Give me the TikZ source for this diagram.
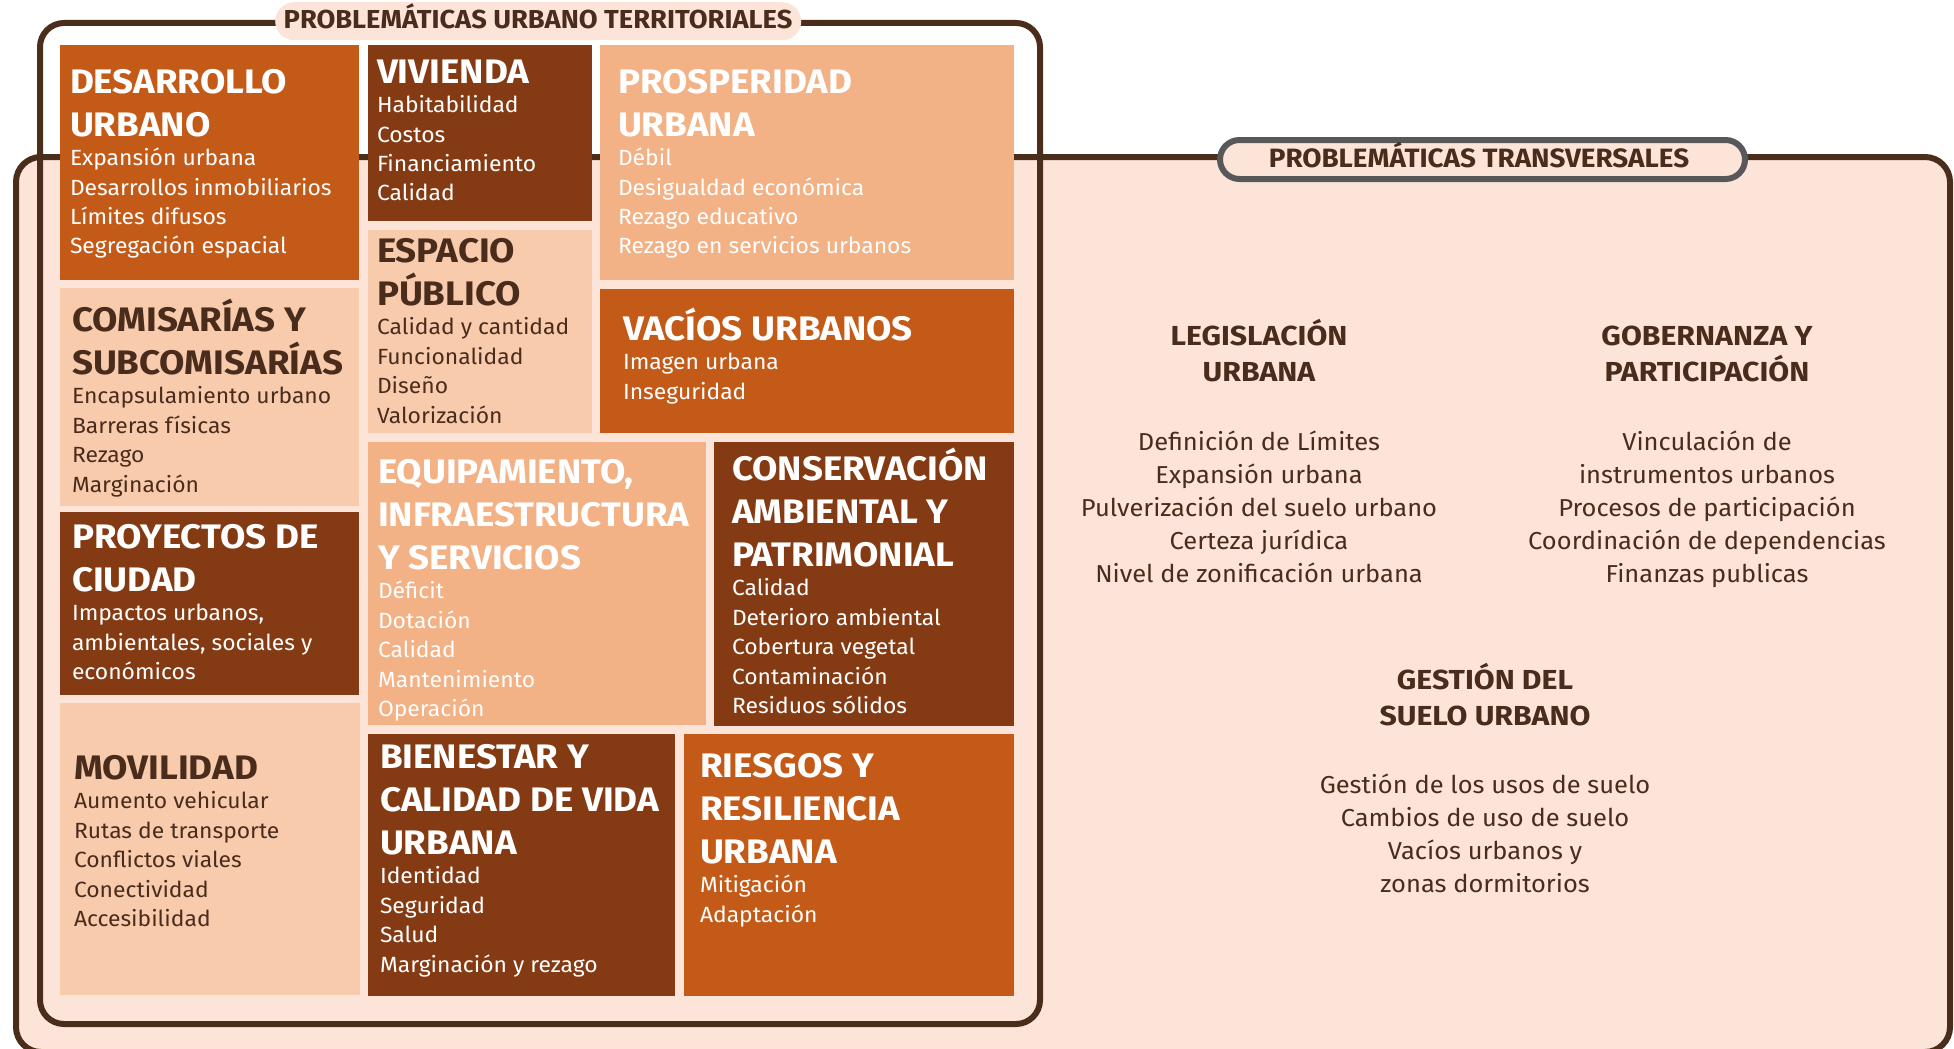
\documentclass[tikz,border=0pt]{standalone}
\usepackage{fontspec}
\setmainfont{Fira Sans}
\newfontfamily\ttlf{Fira Sans}[FakeStretch=1.08]
\newfontfamily\bodyf{Fira Sans}[FakeStretch=1.04]
\newfontfamily\rttlf{Fira Sans}[FakeStretch=1.10]
\newfontfamily\pillf{Fira Sans}[FakeStretch=1.05]
\definecolor{cOr}{HTML}{C35A18}
\definecolor{cDk}{HTML}{843B13}
\definecolor{cLo}{HTML}{F3B186}
\definecolor{cLp}{HTML}{F8CBAD}
\definecolor{cBg}{HTML}{FCE5D8}
\definecolor{cLine}{HTML}{4B2D1B}
\definecolor{cTxt}{HTML}{4A2C1C}
\definecolor{cGray}{HTML}{58585A}
\newcommand\lin[1]{\hbox{#1}}
\newcommand\clin[1]{\hbox to \hsize{\hss#1\hss}}
\newcommand\TT{\ttlf\fontsize{34}{43}\selectfont\bfseries}
\newcommand\BB{\bodyf\fontsize{22}{29.5}\selectfont\mdseries}
\newcommand\RT{\rttlf\fontsize{27.5}{36.5}\selectfont\bfseries}
\newcommand\RB{\bodyf\fontsize{24.5}{33}\selectfont\mdseries}
\newcommand\card[1]{\vtop{\lineskiplimit=-200pt\relax #1}}
\newcommand\ccard[1]{\vtop{\hsize=600pt\lineskiplimit=-200pt\relax #1}}
\tikzset{
  cardbox/.style={inner sep=0pt, outer sep=0pt, anchor=north west, draw=none},
  txt/.style={inner sep=0pt, outer sep=0pt, anchor=base west},
  ctxt/.style={inner sep=0pt, outer sep=0pt, anchor=base},
  frameline/.style={draw=cLine, line width=6pt},
}
\begin{document}
\begin{tikzpicture}[x=1pt,y=-1pt]
\useasboundingbox (0,0) rectangle (1954,1049);
% frames
\path[frameline, fill=cBg, rounded corners=25pt] (16,157) rectangle (1950,1052);
\path[frameline, rounded corners=24pt] (40,23) rectangle (1040,1024);
% pills
\node[fill=cBg, rounded corners=19pt, minimum width=526, minimum height=38, inner sep=0pt, anchor=north west] (pill1) at (275,2) {};
\node[fill=cBg, draw=cGray, line width=6pt, rounded corners=19.5pt, minimum width=525, minimum height=39, inner sep=0pt, anchor=north west] (pill2) at (1217,137) {};
\node[ctxt, text=cTxt, font=\pillf\fontsize{26}{30}\selectfont\bfseries] (pt1) at (538,29) {PROBLEMÁTICAS URBANO TERRITORIALES};
\node[ctxt, text=cTxt, font=\pillf\fontsize{26.5}{30}\selectfont\bfseries] (pt2) at (1479,167) {PROBLEMÁTICAS TRANSVERSALES};
% boxes
\node[cardbox, fill=cOr, minimum width=299, minimum height=235] (b1) at (60,45) {};
\node[cardbox, fill=cDk, minimum width=224, minimum height=176] (b2) at (368,45) {};
\node[cardbox, fill=cLo, minimum width=414, minimum height=235] (b3) at (600,45) {};
\node[cardbox, fill=cLp, minimum width=299, minimum height=218] (b4) at (60,288) {};
\node[cardbox, fill=cLp, minimum width=224, minimum height=203] (b5) at (368,230) {};
\node[cardbox, fill=cOr, minimum width=414, minimum height=144] (b6) at (600,289) {};
\node[cardbox, fill=cDk, minimum width=299, minimum height=183] (b7) at (60,512) {};
\node[cardbox, fill=cLo, minimum width=338, minimum height=283] (b8) at (368,442) {};
\node[cardbox, fill=cDk, minimum width=300, minimum height=284] (b9) at (714,442) {};
\node[cardbox, fill=cLp, minimum width=300, minimum height=292] (b10) at (60,703) {};
\node[cardbox, fill=cDk, minimum width=307, minimum height=262] (b11) at (368,734) {};
\node[cardbox, fill=cOr, minimum width=330, minimum height=262] (b12) at (684,734) {};
% box texts
\node[txt, text=white] (t1) at (70,93) {\card{\TT\lin{DESARROLLO}\lin{URBANO}\BB\lin{Expansión urbana}\lin{Desarrollos inmobiliarios}\lin{Límites difusos}\lin{Segregación espacial}}};
\node[txt, text=white] (t2) at (377,83) {\card{\TT\lin{VIVIENDA}\BB\lin{Habitabilidad}\lin{Costos}\lin{Financiamiento}\lin{Calidad}}};
\node[txt, text=white] (t3) at (618,93) {\card{\TT\lin{PROSPERIDAD}\lin{URBANA}\BB\lin{Débil}\lin{Desigualdad económica}\lin{Rezago educativo}\lin{Rezago en servicios urbanos}}};
\node[txt, text=cTxt] (t4) at (72,331) {\card{\TT\lin{COMISARÍAS Y}\lin{SUBCOMISARÍAS}\BB\lin{Encapsulamiento urbano}\lin{Barreras físicas}\lin{Rezago}\lin{Marginación}}};
\node[txt, text=cTxt] (t5) at (377,262) {\card{\TT\lin{ESPACIO}\lin{PÚBLICO}\BB\lin{Calidad y cantidad}\lin{Funcionalidad}\lin{Diseño}\lin{Valorización}}};
\node[txt, text=white] (t6) at (623,340) {\card{\TT\lin{VACÍOS URBANOS}\BB\lin{Imagen urbana}\lin{Inseguridad}}};
\node[txt, text=white] (t7) at (72,548) {\card{\TT\lin{PROYECTOS DE}\lin{CIUDAD}\BB\lin{Impactos urbanos,}\lin{ambientales, sociales y}\lin{económicos}}};
\node[txt, text=white] (t8) at (378,483) {\card{\TT\lin{EQUIPAMIENTO,}\lin{INFRAESTRUCTURA}\lin{Y SERVICIOS}\BB\lin{Déficit}\lin{Dotación}\lin{Calidad}\lin{Mantenimiento}\lin{Operación}}};
\node[txt, text=white] (t9) at (732,480) {\card{\TT\lin{CONSERVACIÓN}\lin{AMBIENTAL Y}\lin{PATRIMONIAL}\BB\lin{Calidad}\lin{Deterioro ambiental}\lin{Cobertura vegetal}\lin{Contaminación}\lin{Residuos sólidos}}};
\node[txt, text=cTxt] (t10) at (74,779) {\card{\TT\lin{MOVILIDAD}\BB\lin{Aumento vehicular}\lin{Rutas de transporte}\lin{Conflictos viales}\lin{Conectividad}\lin{Accesibilidad}}};
\node[txt, text=white] (t11) at (380,768) {\card{\TT\lin{BIENESTAR Y}\lin{CALIDAD DE VIDA}\lin{URBANA}\BB\lin{Identidad}\lin{Seguridad}\lin{Salud}\lin{Marginación y rezago}}};
\node[txt, text=white] (t12) at (700,777) {\card{\TT\lin{RIESGOS Y}\lin{RESILIENCIA}\lin{URBANA}\BB\lin{Mitigación}\lin{Adaptación}}};
% right panel
\node[ctxt, text=cTxt] (r1) at (1259,345) {\ccard{\RT\clin{LEGISLACIÓN}\clin{URBANA}\RB\vskip36pt\clin{Definición de Límites}\clin{Expansión urbana}\clin{Pulverización del suelo urbano}\clin{Certeza jurídica}\clin{Nivel de zonificación urbana}}};
\node[ctxt, text=cTxt] (r2) at (1707,345) {\ccard{\RT\clin{GOBERNANZA Y}\clin{PARTICIPACIÓN}\RB\vskip36pt\clin{Vinculación de}\clin{instrumentos urbanos}\clin{Procesos de participación}\clin{Coordinación de dependencias}\clin{Finanzas publicas}}};
\node[ctxt, text=cTxt] (r3) at (1485,689) {\ccard{\RT\clin{GESTIÓN DEL}\clin{SUELO URBANO}\RB\vskip35pt\clin{Gestión de los usos de suelo}\clin{Cambios de uso de suelo}\clin{Vacíos urbanos y}\clin{zonas dormitorios}}};
\end{tikzpicture}
\end{document}
